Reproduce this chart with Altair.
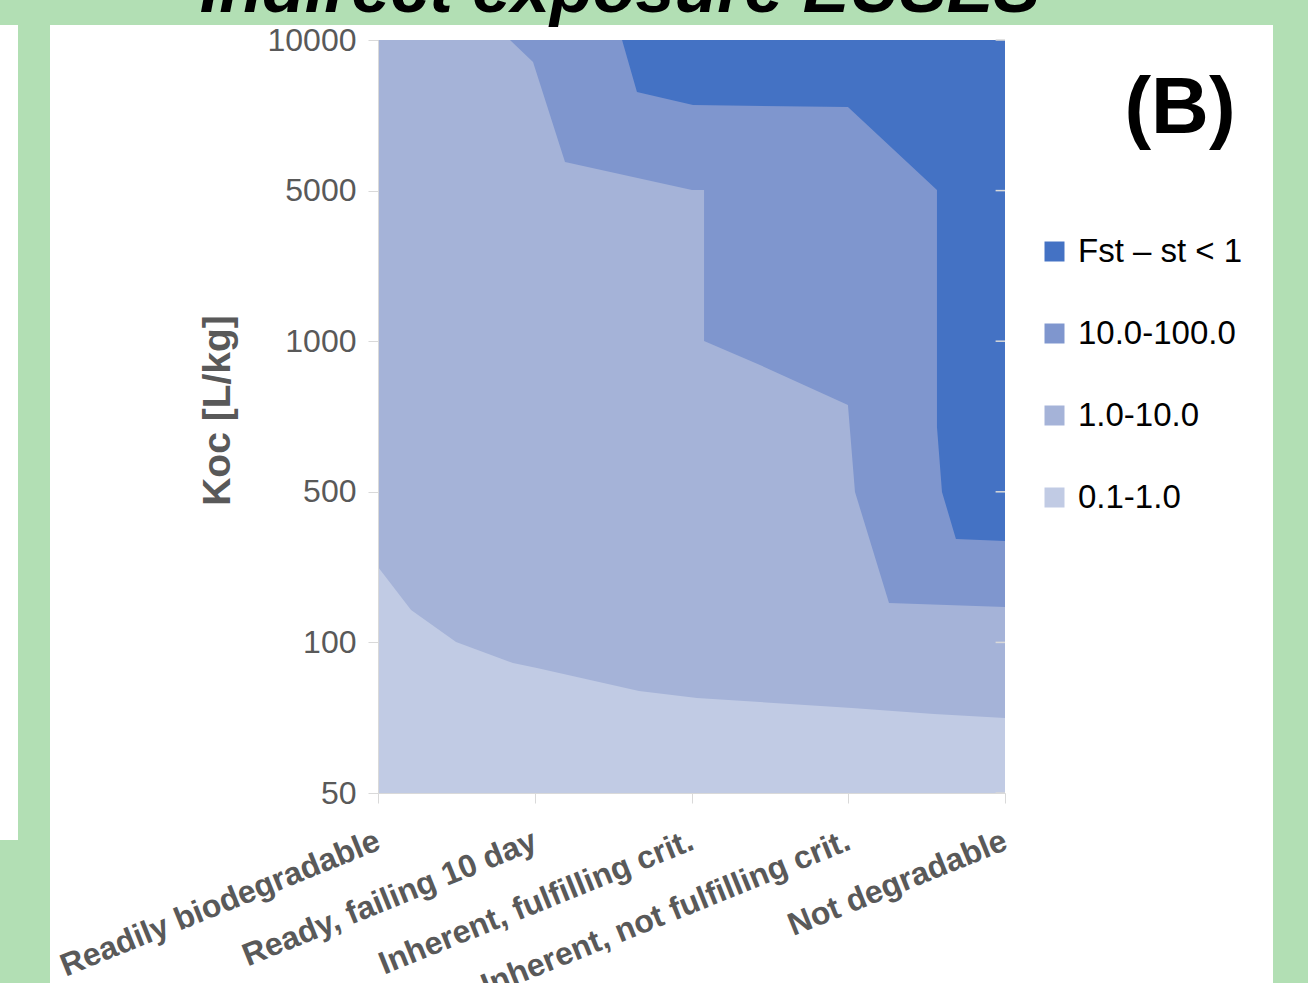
import altair as alt
import pandas as pd

# ---- data (positions in axis-index units: x 0..4 = categories, y 0..5 = Koc tick levels)
categories = ["Readily biodegradable", "Ready, failing 10 day", "Inherent, fulfilling crit.",
              "Inherent, not fulfilling crit.", "Not degradable"]
koc_labels = ["50", "100", "500", "1000", "5000", "10000"]
bands = ["Fst \u2013 st < 1", "10.0-100.0", "1.0-10.0", "0.1-1.0"]
band_colors = ["#4472c4", "#7f96ce", "#a5b3d8", "#c1cbe4"]

# top boundary of each band (band filled from bottom up to this boundary)
dark_x = [0.0, 4.0]
dark_y = [5.0, 5.0]
b10_x = [0.0, 1.557, 1.652, 1.927, 2.010, 2.998, 3.566, 3.566, 3.598, 3.687, 4.0]
b10_y = [5.0, 5.0, 4.655, 4.588, 4.568, 4.555, 4.004, 2.430, 1.999, 1.687, 1.673]
b1_x = [0.0, 0.842, 0.989, 1.193, 1.627, 2.003, 2.08, 2.08, 2.437, 2.998, 3.043, 3.260, 4.0]
b1_y = [5.0, 5.0, 4.854, 4.190, 4.090, 4.004, 4.004, 3.001, 2.842, 2.576, 1.999, 1.262, 1.235]
b01_x = [0.0, 0.211, 0.498, 0.861, 1.014, 1.665, 2.035, 3.024, 3.547, 4.0]
b01_y = [1.501, 1.215, 1.003, 0.863, 0.830, 0.677, 0.631, 0.564, 0.525, 0.498]

rows = []
for name, xs, ys in zip(bands, [dark_x, b10_x, b1_x, b01_x], [dark_y, b10_y, b1_y, b01_y]):
    for i, (xv, yv) in enumerate(zip(xs, ys)):
        rows.append({"band": name, "x": xv, "y": yv, "y0": 0.0, "i": i})
df = pd.DataFrame(rows)

tick_levels = [0, 1, 2, 3, 4, 5]
ticks_df = pd.DataFrame({"y": tick_levels, "x1": [3.94] * 6, "x2": [4.0] * 6})

FONT = "Liberation Sans"
GREY = "#595959"
LINE = "#d9d9d9"
GREEN = "#b2dfb4"

x_enc = alt.X("x:Q", scale=alt.Scale(domain=[0, 4], nice=False, zero=False),
              axis=alt.Axis(values=[0, 1, 2, 3, 4], title=None,
                            labelExpr="['Readily biodegradable','Ready, failing 10 day','Inherent, fulfilling crit.','Inherent, not fulfilling crit.','Not degradable'][datum.value]",
                            labelAngle=338, labelAlign="right", labelBaseline="middle",
                            labelFontSize=32, labelFontWeight="bold", labelColor=GREY, labelFont=FONT,
                            labelPadding=36, labelLimit=1000, labelOverlap=False, labelBound=False,
                            tickSize=10, tickColor=LINE, domainColor=LINE, grid=False, zindex=1))
y_enc = alt.Y("y:Q", scale=alt.Scale(domain=[0, 5], nice=False, zero=False),
              axis=alt.Axis(values=tick_levels,
                            labelExpr="['50','100','500','1000','5000','10000'][datum.value]",
                            labelFontSize=32, labelColor=GREY, labelFont=FONT, labelPadding=12,
                            tickSize=10, tickColor=LINE, domainColor=LINE, grid=False, zindex=1,
                            title="Koc [L/kg]", titleFont=FONT, titleFontSize=39, titleFontWeight="bold",
                            titleColor=GREY, titleAngle=270, titleX=-149, titleY=370,
                            titleAlign="center", titleBaseline="alphabetic"))
color_enc = alt.Color("band:N",
                      scale=alt.Scale(domain=bands, range=band_colors),
                      legend=alt.Legend(title=None, orient="none", legendX=660, legendY=195,
                                        symbolType="square", symbolSize=400, symbolStrokeWidth=0,
                                        symbolOpacity=1,
                                        labelFontSize=33, labelFont=FONT, labelColor="black",
                                        labelOffset=7, rowPadding=48, padding=0, labelLimit=400))

one = pd.DataFrame({"a": [0]})

def green_rect(x1, x2, y1, y2):
    return alt.Chart(one).mark_rect(color=GREEN).encode(
        x=alt.value(x1), x2=alt.value(x2), y=alt.value(y1), y2=alt.value(y2))

layers = [
    green_rect(-378, 930, -40, -15),   # top strip
    green_rect(-360, -328, -15, 943),  # left band
    green_rect(-378, -360, 800, 943),  # lower-left
    green_rect(895, 930, -15, 943),    # right band
]

for name in bands:
    layers.append(
        alt.Chart(df).transform_filter(alt.FieldEqualPredicate(field="band", equal=name))
        .mark_area()
        .encode(x=x_enc, y=y_enc, y2=alt.Y2("y0"), color=color_enc)
    )

right_ticks = alt.Chart(ticks_df).mark_rule(color=LINE, strokeWidth=1.5).encode(
    x=alt.X("x1:Q"), x2="x2:Q", y=alt.Y("y:Q"))
layers.append(right_ticks)

title = alt.Chart(one).mark_text(text="Indirect exposure EUSES", font=FONT, fontSize=70,
                                 fontWeight="bold", fontStyle="italic", color="black",
                                 align="center", baseline="alphabetic").encode(
    x=alt.value(242), y=alt.value(-28))
label_b = alt.Chart(one).mark_text(text="(B)", font=FONT, fontSize=80, fontWeight="bold",
                                   color="black", align="center", baseline="alphabetic").encode(
    x=alt.value(802), y=alt.value(93))
layers += [title, label_b]

chart = alt.layer(*layers).properties(
    width=627, height=753,
    autosize=alt.AutoSizeParams(type="none"),
    padding={"left": 378, "top": 40, "right": 303, "bottom": 190},
).configure(background="white").configure_view(stroke="transparent")

chart.save("out.html", embed_options={"renderer": "svg", "actions": False})
